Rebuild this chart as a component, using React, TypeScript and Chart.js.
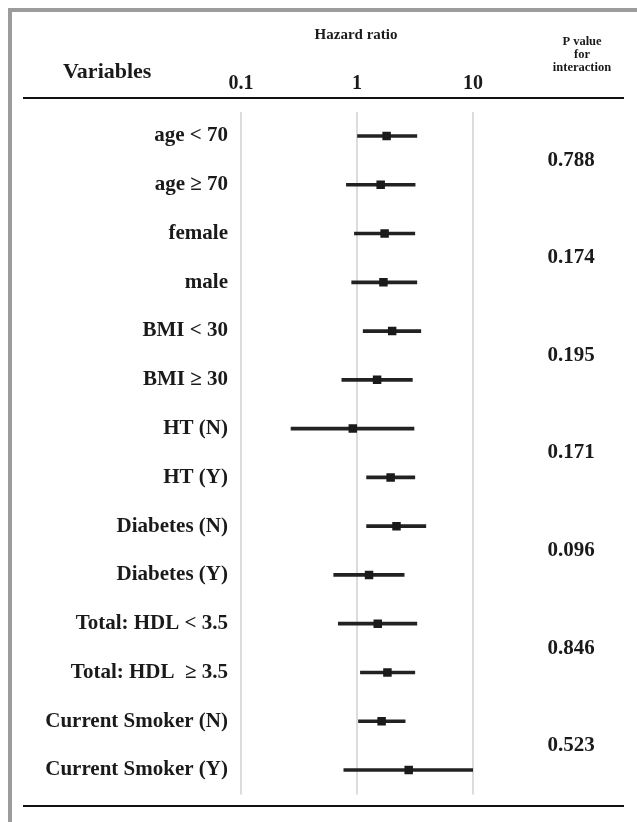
import React, { useEffect, useRef } from 'react';
import { Chart, registerables } from 'chart.js';

Chart.register(...registerables);

const variables = [
  'age < 70',
  'age ≥ 70',
  'female',
  'male',
  'BMI < 30',
  'BMI ≥ 30',
  'HT (N)',
  'HT (Y)',
  'Diabetes (N)',
  'Diabetes (Y)',
  'Total: HDL < 3.5',
  'Total: HDL  ≥ 3.5',
  'Current Smoker (N)',
  'Current Smoker (Y)',
];
const hazardRatio = [1.8, 1.6, 1.73, 1.69, 2.01, 1.49, 0.92, 1.95, 2.19, 1.27, 1.51, 1.83, 1.63, 2.79];
const ciLower = [1.01, 0.81, 0.95, 0.9, 1.13, 0.74, 0.27, 1.21, 1.21, 0.63, 0.69, 1.07, 1.03, 0.77];
const ciUpper = [3.28, 3.17, 3.15, 3.28, 3.55, 3.0, 3.1, 3.15, 3.92, 2.55, 3.28, 3.15, 2.6, 10.0];
const pValues = ['0.788', '0.174', '0.195', '0.171', '0.096', '0.846', '0.523'];
const axisTicks = [0.1, 1, 10];
const axisTickLabels = ['0.1', '1', '10'];
const headerVariables = 'Variables';
const headerAxis = 'Hazard ratio';
const headerP = ['P value', 'for', 'interaction'];

const FONT = "'Liberation Serif', 'Times New Roman', serif";
const INK = '#1a1a1a';

const decor = {
  id: 'decor',
  afterDraw(chart: any) {
    const ctx = chart.ctx as CanvasRenderingContext2D;
    const ys = chart.scales.y;
    ctx.save();
    ctx.fillStyle = '#9c9c9c';
    ctx.fillRect(8, 8, 629, 4);
    ctx.fillRect(8, 8, 4, 814);

    ctx.fillStyle = INK;
    ctx.textBaseline = 'middle';
    ctx.textAlign = 'left';
    ctx.font = `bold 22px ${FONT}`;
    ctx.fillText(headerVariables, 63, 72);

    ctx.textAlign = 'center';
    ctx.font = `bold 15px ${FONT}`;
    ctx.fillText(headerAxis, 356, 35);

    ctx.font = `bold 12.5px ${FONT}`;
    headerP.forEach((t, i) => ctx.fillText(t, 582, 42 + i * 13));

    ctx.strokeStyle = '#111';
    ctx.lineWidth = 2;
    ctx.beginPath();
    ctx.moveTo(23, 98);
    ctx.lineTo(624, 98);
    ctx.moveTo(23, 806);
    ctx.lineTo(624, 806);
    ctx.stroke();

    ctx.font = `bold 21px ${FONT}`;
    pValues.forEach((p, k) => {
      const y = (ys.getPixelForValue(2 * k) + ys.getPixelForValue(2 * k + 1)) / 2;
      ctx.fillText(p, 571, y);
    });
    ctx.restore();
  },
};

export default function App() {
  const ref = useRef<HTMLCanvasElement>(null);
  useEffect(() => {
    if (!ref.current) return;
    const chart = new Chart(ref.current, {
      type: 'bar',
      data: {
        labels: variables,
        datasets: [
          {
            type: 'scatter',
            data: variables.map((v, i) => ({ x: hazardRatio[i], y: v })) as any,
            pointStyle: 'rect',
            pointRadius: 6,
            backgroundColor: '#1a1a1a',
            borderColor: '#1a1a1a',
            borderWidth: 0,
            order: 0,
          } as any,
          {
            type: 'bar',
            data: variables.map((_, i) => [ciLower[i], ciUpper[i]]) as any,
            backgroundColor: '#222',
            barThickness: 3,
            borderWidth: 0,
            order: 1,
          } as any,
        ],
      },
      options: {
        indexAxis: 'y',
        animation: false,
        responsive: false,
        layout: { padding: { top: 0, left: 0, right: 164, bottom: 27.6 } },
        plugins: { legend: { display: false }, tooltip: { enabled: false } },
        scales: {
          x: {
            type: 'logarithmic',
            position: 'top',
            min: 0.1,
            max: 10,
            afterBuildTicks: (s: any) => {
              s.ticks = axisTicks.map((v) => ({ value: v }));
            },
            afterFit: (s: any) => {
              s.height = 111.6;
            },
            ticks: {
              callback: (v: any) => {
                const i = axisTicks.indexOf(Number(v));
                return i >= 0 ? axisTickLabels[i] : '';
              },
              font: { family: FONT, size: 20, weight: 'bold' },
              color: INK,
              padding: 16,
              maxRotation: 0,
              autoSkip: false,
            },
            grid: { color: '#dcdcdc', lineWidth: 2, drawTicks: false },
            border: { display: false },
          },
          y: {
            type: 'category',
            position: 'left',
            afterFit: (s: any) => {
              s.width = 241;
            },
            ticks: {
              font: { family: FONT, size: 21, weight: 'bold' },
              color: INK,
              padding: 5,
              autoSkip: false,
            },
            grid: { display: false },
            border: { display: false },
          },
        },
      } as any,
      plugins: [decor],
    });
    return () => chart.destroy();
  }, []);
  return (
    <div style={{ position: 'fixed', left: 0, top: 0, width: 637, height: 822, background: '#fff' }}>
      <canvas ref={ref} width={637} height={822} style={{ display: 'block' }} />
    </div>
  );
}
